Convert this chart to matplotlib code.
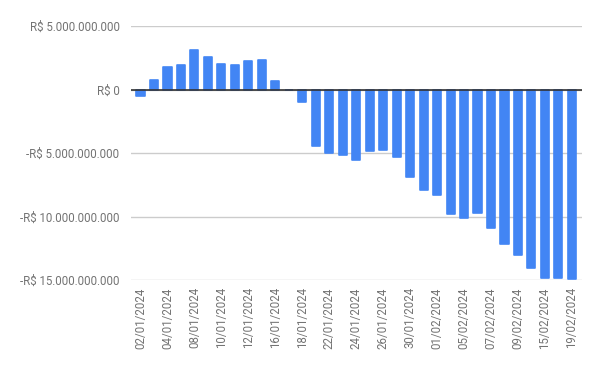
import matplotlib
matplotlib.use("Agg")
import matplotlib.pyplot as plt
from matplotlib.ticker import FuncFormatter

dates = ["02/01/2024", "03/01/2024", "04/01/2024", "05/01/2024", "08/01/2024",
         "09/01/2024", "10/01/2024", "11/01/2024", "12/01/2024", "15/01/2024",
         "16/01/2024", "17/01/2024", "18/01/2024", "19/01/2024", "22/01/2024",
         "23/01/2024", "24/01/2024", "25/01/2024", "26/01/2024", "29/01/2024",
         "30/01/2024", "31/01/2024", "01/02/2024", "02/02/2024", "05/02/2024",
         "06/02/2024", "07/02/2024", "08/02/2024", "09/02/2024", "14/02/2024",
         "15/02/2024", "16/02/2024", "19/02/2024"]

# values in R$ billions
values_bi = [-0.48, 0.73, 1.74, 1.90, 3.15, 2.53, 1.98, 1.90, 2.21, 2.29,
             0.65, 0.0, -0.96, -4.40, -4.95, -5.18, -5.57, -4.80, -4.72, -5.27,
             -6.85, -7.87, -8.26, -9.76, -10.07, -9.68, -10.86, -12.12, -12.98,
             -14.00, -14.79, -14.79, -14.87]

yticks = [5e9, 0, -5e9, -10e9, -15e9]

plt.rcParams['font.family'] = ['Roboto', 'DejaVu Sans']

fig = plt.figure(figsize=(6.0, 3.71), dpi=100)
ax = fig.add_axes([130.7 / 600, (371 - 280.3) / 371,
                   (581.7 - 130.7) / 600, (280.3 - 26) / 371])

values = [v * 1e9 for v in values_bi]
x = list(range(len(dates)))
ax.bar(x, values, width=0.6, color="#4285F4", edgecolor="#4285F4",
       linewidth=1.2, joinstyle="round", zorder=3)

ax.set_xlim(-0.73, len(dates) - 1 + 0.73)
ax.set_ylim(-15e9, 5e9)

ax.set_yticks(yticks)


def fmt(v, pos):
    s = "{:,.0f}".format(abs(v)).replace(",", ".")
    return ("-R$ " if v < 0 else "R$ ") + s


ax.yaxis.set_major_formatter(FuncFormatter(fmt))
ax.grid(axis="y", color="#cccccc", linewidth=1, zorder=0)
ax.axhline(0, color="#333333", linewidth=1.2, zorder=4)

ax.set_xticks(x[::2])
ax.set_xticklabels(dates[::2], rotation=90)

for s in ax.spines.values():
    s.set_visible(False)
ax.tick_params(axis="both", length=0, labelsize=8.3, colors="#737373")
ax.tick_params(axis="y", pad=8)
ax.tick_params(axis="x", pad=5)

fig.savefig("out.png", dpi=100, facecolor="white")
